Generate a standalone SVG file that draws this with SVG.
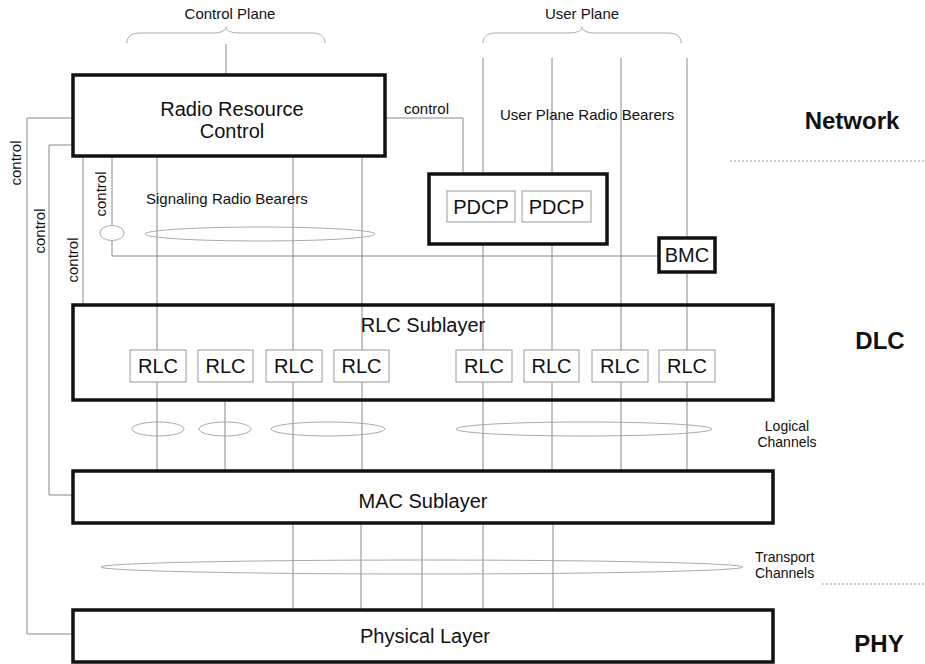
<svg xmlns="http://www.w3.org/2000/svg" width="925" height="664" viewBox="0 0 925 664">
<style>
text{font-family:"Liberation Sans",Arial,sans-serif;fill:#111}
.t15{font-size:15px}
.t14{font-size:14px}
.t20{font-size:20px}
.big{font-size:24px;font-weight:bold}
.ln{stroke:#888;stroke-width:1;fill:none}
.el{stroke:#aaa;stroke-width:1;fill:none}
.thick{stroke:#111;stroke-width:3.5;fill:#fff}
.thin{stroke:#999;stroke-width:1;fill:#fff}
.dot{stroke:#999;stroke-width:1;stroke-dasharray:2 2;fill:none}
</style>
<rect width="925" height="664" fill="#fff"/>

<g id="connectors">
  <!-- braces -->
  <path class="el" d="M127,43 C127,36 132,33 140,33 L212,33 C220,33 226,31 226,27 C226,31 232,33 240,33 L312,33 C320,33 325,36 325,43"/>
  <path class="el" d="M483,43 C483,36 488,33 496,33 L568,33 C576,33 582,31 582,27 C582,31 588,33 596,33 L668,33 C676,33 681,36 681,43"/>
  <line class="ln" x1="226" y1="44" x2="226" y2="75"/>
  <!-- left control lines -->
  <polyline class="ln" points="73,118 27,118 27,634 73,634"/>
  <polyline class="ln" points="73,145 49,145 49,495 73,495"/>
  <line class="ln" x1="83" y1="156" x2="83" y2="305"/>
  <line class="ln" x1="112" y1="156" x2="112" y2="225"/>
  <polyline class="ln" points="112,240 112,256 659,256"/>
  <!-- RRC to PDCP control -->
  <polyline class="ln" points="385,118 463,118 463,174"/>
  <!-- signaling radio bearers -->
  <line class="ln" x1="157" y1="156" x2="157" y2="471"/>
  <line class="ln" x1="293" y1="156" x2="293" y2="471"/>
  <line class="ln" x1="362" y1="156" x2="362" y2="471"/>
  <line class="ln" x1="225" y1="400" x2="225" y2="471"/>
  <!-- user plane bearers -->
  <line class="ln" x1="483" y1="58" x2="483" y2="174"/>
  <line class="ln" x1="483" y1="244" x2="483" y2="471"/>
  <line class="ln" x1="552" y1="58" x2="552" y2="174"/>
  <line class="ln" x1="552" y1="244" x2="552" y2="471"/>
  <line class="ln" x1="621" y1="58" x2="621" y2="471"/>
  <line class="ln" x1="687" y1="58" x2="687" y2="238"/>
  <line class="ln" x1="687" y1="272" x2="687" y2="471"/>
  <!-- MAC to PHY -->
  <line class="ln" x1="293" y1="523" x2="293" y2="610"/>
  <line class="ln" x1="361" y1="523" x2="361" y2="610"/>
  <line class="ln" x1="422" y1="523" x2="422" y2="610"/>
  <line class="ln" x1="483" y1="523" x2="483" y2="610"/>
  <line class="ln" x1="553" y1="523" x2="553" y2="610"/>
  <!-- ellipses -->
  <ellipse class="el" cx="112" cy="233" rx="12" ry="7.5" fill="#fff"/>
  <ellipse class="el" cx="260" cy="234" rx="115" ry="7"/>
  <ellipse class="el" cx="158" cy="429" rx="26" ry="7"/>
  <ellipse class="el" cx="225" cy="429" rx="26" ry="7"/>
  <ellipse class="el" cx="328" cy="429" rx="57" ry="7"/>
  <ellipse class="el" cx="584" cy="429" rx="128" ry="7"/>
  <ellipse class="el" cx="422" cy="567" rx="321" ry="7"/>
  <!-- dotted separators -->
  <line class="dot" x1="730" y1="161" x2="925" y2="161"/>
  <line class="dot" x1="822" y1="584" x2="925" y2="584"/>
</g>

<g id="labels">
  <text class="t15" x="230" y="19" text-anchor="middle">Control Plane</text>
  <text class="t15" x="582" y="19" text-anchor="middle">User Plane</text>
  <text class="t15" x="404" y="114">control</text>
  <text class="t15" x="500" y="120">User Plane Radio Bearers</text>
  <text class="t15" x="146" y="204">Signaling Radio Bearers</text>
  <text class="t15" transform="translate(21,163) rotate(-90)" text-anchor="middle">control</text>
  <text class="t15" transform="translate(45,231) rotate(-90)" text-anchor="middle">control</text>
  <text class="t15" transform="translate(78,260) rotate(-90)" text-anchor="middle">control</text>
  <text class="t15" transform="translate(106,194) rotate(-90)" text-anchor="middle">control</text>
  <text class="t14" x="787" y="431" text-anchor="middle">Logical</text>
  <text class="t14" x="787" y="447" text-anchor="middle">Channels</text>
  <text class="t14" x="755" y="562">Transport</text>
  <text class="t14" x="755" y="578">Channels</text>
  <text class="big" x="852" y="129" text-anchor="middle">Network</text>
  <text class="big" x="880" y="349" text-anchor="middle">DLC</text>
  <text class="big" x="879" y="652" text-anchor="middle">PHY</text>
</g>

<g id="rrc">
  <rect class="thick" x="73" y="75" width="312" height="81"/>
  <text class="t20" x="232" y="116" text-anchor="middle">Radio Resource</text>
  <text class="t20" x="232" y="138" text-anchor="middle">Control</text>
</g>

<g id="pdcp-group">
  <rect class="thick" x="429" y="174" width="178" height="70"/>
  <g id="pdcp1">
    <rect class="thin" x="447" y="191" width="68" height="31"/>
    <text class="t20" x="481" y="214" text-anchor="middle">PDCP</text>
  </g>
  <g id="pdcp2">
    <rect class="thin" x="522" y="191" width="69" height="31"/>
    <text class="t20" x="556.5" y="214" text-anchor="middle">PDCP</text>
  </g>
</g>

<g id="bmc">
  <rect class="thick" x="659" y="238" width="56" height="34"/>
  <text class="t20" x="687" y="262" text-anchor="middle">BMC</text>
</g>

<g id="rlc-sublayer">
  <rect x="73" y="305" width="700" height="95" fill="none" stroke="#111" stroke-width="3.5"/>
  <text class="t20" x="423" y="332" text-anchor="middle">RLC Sublayer</text>
</g>

<g id="rlc1"><rect class="thin" x="130" y="350" width="56" height="32"/><text class="t20" x="158" y="373" text-anchor="middle">RLC</text></g>
<g id="rlc2"><rect class="thin" x="198" y="350" width="55" height="32"/><text class="t20" x="225.5" y="373" text-anchor="middle">RLC</text></g>
<g id="rlc3"><rect class="thin" x="266" y="350" width="56" height="32"/><text class="t20" x="294" y="373" text-anchor="middle">RLC</text></g>
<g id="rlc4"><rect class="thin" x="334" y="350" width="55" height="32"/><text class="t20" x="361.5" y="373" text-anchor="middle">RLC</text></g>
<g id="rlc5"><rect class="thin" x="456" y="350" width="56" height="32"/><text class="t20" x="484" y="373" text-anchor="middle">RLC</text></g>
<g id="rlc6"><rect class="thin" x="524" y="350" width="55" height="32"/><text class="t20" x="551.5" y="373" text-anchor="middle">RLC</text></g>
<g id="rlc7"><rect class="thin" x="592" y="350" width="56" height="32"/><text class="t20" x="620" y="373" text-anchor="middle">RLC</text></g>
<g id="rlc8"><rect class="thin" x="659" y="350" width="56" height="32"/><text class="t20" x="687" y="373" text-anchor="middle">RLC</text></g>

<g id="mac">
  <rect class="thick" x="73" y="471" width="700" height="52"/>
  <text class="t20" x="423" y="508" text-anchor="middle">MAC Sublayer</text>
</g>

<g id="phy">
  <rect class="thick" x="73" y="610" width="700" height="52"/>
  <text class="t20" x="425" y="643" text-anchor="middle">Physical Layer</text>
</g>
</svg>
